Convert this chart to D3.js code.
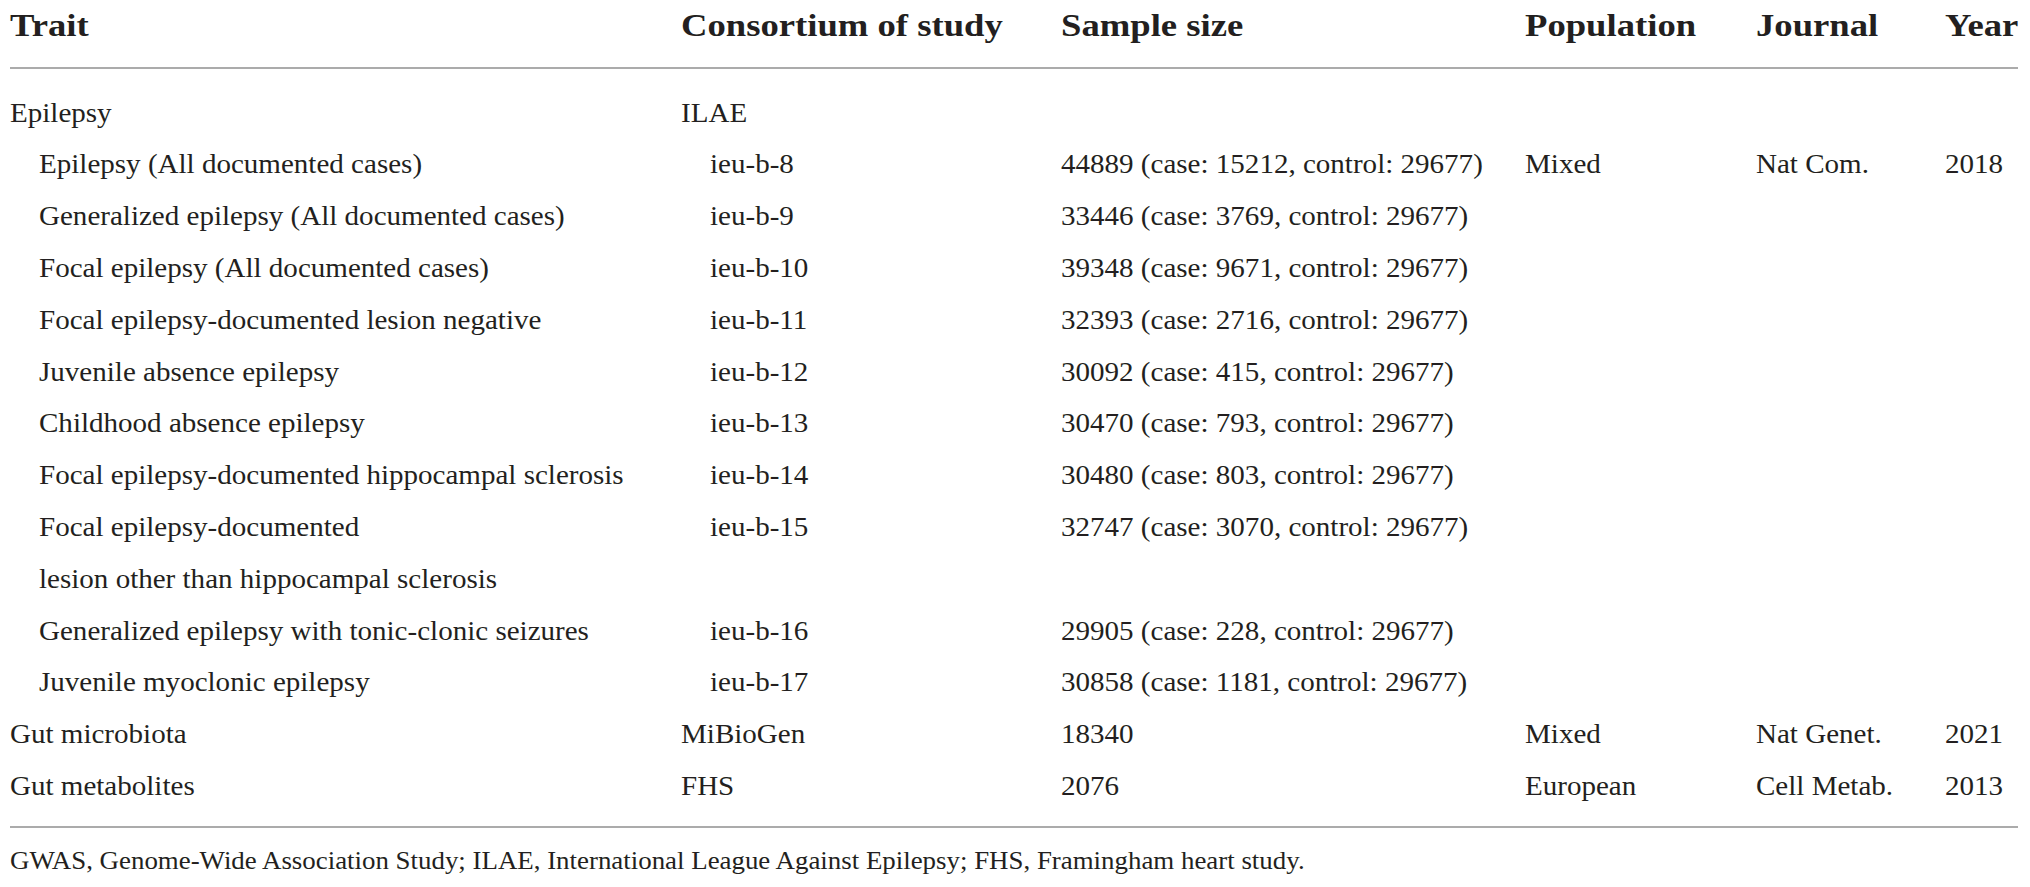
<!DOCTYPE html>
<html>
<head>
<meta charset="utf-8">
<script src="https://cdn.jsdelivr.net/npm/d3@7"></script>
<style>
  body { margin: 0; background: #fff; }
  text { fill: #231f20; }
</style>
</head>
<body>
<script>
// table content, one array per column
const headers = ["Trait", "Consortium of study", "Sample size", "Population", "Journal", "Year"];
const traits = ["Epilepsy", "Epilepsy (All documented cases)", "Generalized epilepsy (All documented cases)",
    "Focal epilepsy (All documented cases)", "Focal epilepsy-documented lesion negative",
    "Juvenile absence epilepsy", "Childhood absence epilepsy", "Focal epilepsy-documented hippocampal sclerosis",
    "Focal epilepsy-documented", "lesion other than hippocampal sclerosis",
    "Generalized epilepsy with tonic-clonic seizures", "Juvenile myoclonic epilepsy",
    "Gut microbiota", "Gut metabolites"];
const indent = [0, 1, 1, 1, 1, 1, 1, 1, 1, 1, 1, 1, 0, 0];
const consortia = ["ILAE", "ieu-b-8", "ieu-b-9", "ieu-b-10", "ieu-b-11", "ieu-b-12", "ieu-b-13", "ieu-b-14",
    "ieu-b-15", "", "ieu-b-16", "ieu-b-17", "MiBioGen", "FHS"];
const sampleSizes = ["", "44889 (case: 15212, control: 29677)", "33446 (case: 3769, control: 29677)",
    "39348 (case: 9671, control: 29677)", "32393 (case: 2716, control: 29677)",
    "30092 (case: 415, control: 29677)", "30470 (case: 793, control: 29677)",
    "30480 (case: 803, control: 29677)", "32747 (case: 3070, control: 29677)", "",
    "29905 (case: 228, control: 29677)", "30858 (case: 1181, control: 29677)", "18340", "2076"];
const populations = ["", "Mixed", "", "", "", "", "", "", "", "", "", "", "Mixed", "European"];
const journals = ["", "Nat Com.", "", "", "", "", "", "", "", "", "", "", "Nat Genet.", "Cell Metab."];
const years = ["", "2018", "", "", "", "", "", "", "", "", "", "", "2021", "2013"];
const footnote = "GWAS, Genome-Wide Association Study; ILAE, International League Against Epilepsy; FHS, Framingham heart study.";

const W = 2030, H = 887;
const colX = [10, 681, 1061, 1525, 1756, 1945];
const indentW = 29;
const font = "'Liberation Serif', 'Times New Roman', serif";

const svg = d3.select("body").append("svg").attr("width", W).attr("height", H);

// row baselines
const y = d3.scaleLinear().domain([0, traits.length - 1]).range([121.5, 795]);

// horizontal stretch so Liberation Serif matches the wider original face
function stretchFor(str, size, weight, target) {
    const t = svg.append("text").attr("font-family", font).attr("font-size", size)
        .attr("font-weight", weight).text(str);
    const w = t.node().getComputedTextLength();
    t.remove();
    return target / w;
}
const kBody = stretchFor("Focal epilepsy-documented hippocampal sclerosis", 27, "normal", 585);
const kHead = stretchFor("Consortium of study", 31, "bold", 322);
const kFoot = stretchFor(footnote, 25, "normal", 1295);

function put(g, str, x, yy, size, weight, k) {
    g.append("text")
        .attr("transform", "translate(" + x + "," + yy + ") scale(" + k + ",1)")
        .attr("font-family", font).attr("font-size", size).attr("font-weight", weight)
        .text(str);
}

// header
const head = svg.append("g");
headers.forEach(function(h, i) {
    put(head, h, colX[i], 36, 31, "bold", kHead);
});

// rules
svg.selectAll("line.rule").data([68, 827]).enter().append("line")
    .attr("class", "rule")
    .attr("x1", 10).attr("x2", 2018)
    .attr("y1", function(d) { return d; }).attr("y2", function(d) { return d; })
    .attr("stroke", "#ababab").attr("stroke-width", 1.8);

// body rows
const body = svg.append("g");
const columns = [traits, consortia, sampleSizes, populations, journals, years];
columns.forEach(function(col, c) {
    col.forEach(function(v, i) {
        if (v == "") return;
        let x = colX[c];
        if ((c == 0 || c == 1) && indent[i] == 1) x += indentW;
        put(body, v, x, y(i), 27, "normal", kBody);
    });
});

// footnote
put(svg, footnote, 10, 869, 25, "normal", kFoot);
</script>
</body>
</html>
